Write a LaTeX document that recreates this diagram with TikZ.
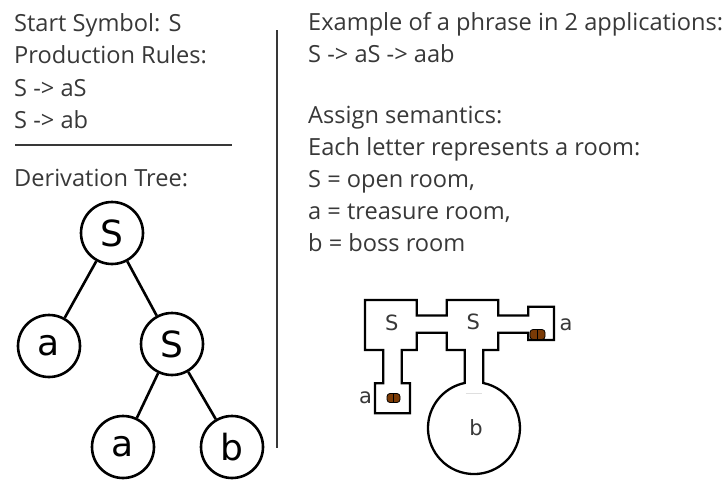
\documentclass[tikz,border=0pt]{standalone}
\usepackage{fontspec}
\setmainfont{Open Sans}
\newfontfamily\dejavu{DejaVu Sans}
\usepackage{tikz}

\definecolor{ink}{HTML}{383838}
\definecolor{chestbrown}{HTML}{7A3A06}

\tikzset{
  txt/.style={anchor=base west, inner sep=0pt, text=ink,
    font=\fontsize{23.6}{26}\selectfont},
  tnode/.style={draw, circle, line width=2.6pt, minimum size=62pt,
    inner sep=0pt, font=\dejavu\fontsize{36}{38}\selectfont},
  edge/.style={line width=2.6pt},
  wall/.style={line width=2.3pt, line join=miter, fill=white},
  roomlbl/.style={inner sep=0pt, text=ink, font=\dejavu\fontsize{21}{24}\selectfont},
  chest/.style={draw=black, line width=0.8pt, fill=chestbrown,
    rounded corners=3pt}
}

\begin{document}
\begin{tikzpicture}[x=1pt, y=-1pt]

\useasboundingbox[fill=white] (0,0) rectangle (727,479);

% grammar
\node[txt] (start) at (14,31) {Start Symbol: S};
\node[txt] (rules) at (14,63) {Production Rules:};
\node[txt] (rule1) at (14,96) {S -> aS};
\node[txt] (rule2) at (14,128) {S -> ab};
\coordinate (sepl) at (15,145);
\coordinate (sepr) at (232,145);
\draw[line width=1.8pt, ink] (sepl) -- (sepr);
\node[txt] (treettl) at (14,186) {Derivation Tree:};

% derivation tree
\node[tnode] (s1) at (112,233) {S};
\node[tnode] (a1) at (49,346) {a};
\node[tnode] (s2) at (172,344) {S};
\node[tnode] (a2) at (123,447) {a};
\node[tnode] (b2) at (232,447) {b};

\draw[edge] (s1) -- (a1);
\draw[edge] (s1) -- (s2);
\draw[edge] (s2) -- (a2);
\draw[edge] (s2) -- (b2);

% divider
\coordinate (divtop) at (277,30);
\coordinate (divbot) at (277,448);
\draw[line width=1.4pt, ink] (divtop) -- (divbot);

% example and semantics
\node[txt] (ex)   at (308,30)  {Example of a phrase in 2 applications:};
\node[txt] (deriv) at (308,62) {S -> aS -> aab};
\node[txt] (sem)  at (308,123) {Assign semantics:};
\node[txt] (each) at (308,155) {Each letter represents a room:};
\node[txt] (defs) at (308,187) {S = open room,};
\node[txt] (defa) at (308,219) {a = treasure room,};
\node[txt] (defb) at (308,251) {b = boss room};

% dungeon map
\draw[wall]
  (365,300) -- (416.7,300) -- (416.7,315.5) -- (446.7,315.5) -- (446.7,300)
  -- (498.3,300) -- (498.3,315.5) -- (528.3,315.5) -- (528.3,306.7)
  -- (554,306.7) -- (554,340) -- (528.3,340) -- (528.3,332.7)
  -- (498.3,332.7) -- (498.3,350) -- (483.3,350) -- (483.3,383)
  arc[start angle=-78.3, end angle=258.3, radius=46]
  -- (464.7,350) -- (446.7,350) -- (446.7,332.7) -- (416.7,332.7)
  -- (416.7,350) -- (401.7,350) -- (401.7,383.3) -- (410,383.3)
  -- (410,413.3) -- (375,413.3) -- (375,383.3) -- (383.3,383.3)
  -- (383.3,350) -- (365,350) -- cycle;
\draw[gray!25, line width=0.6pt] (465.8,393.5) -- (482.2,393.5);

% chests
\node[chest, minimum width=13pt, minimum height=9pt, inner sep=0pt] (chl) at (393.5,398) {};
\draw[black, line width=0.6pt] (chl.north) -- (chl.south);
\node[chest, minimum width=15pt, minimum height=10pt, inner sep=0pt] (chr) at (537.5,334.5) {};
\draw[black, line width=0.6pt] (chr.north) -- (chr.south);

% room labels
\node[roomlbl] (ms1) at (391.7,323.3) {S};
\node[roomlbl] (ms2) at (473.3,321.7) {S};
\node[roomlbl] (mar) at (566,325) {a};
\node[roomlbl] (mal) at (365.5,398) {a};
\node[roomlbl] (mb)  at (476,428) {b};

\end{tikzpicture}
\end{document}
